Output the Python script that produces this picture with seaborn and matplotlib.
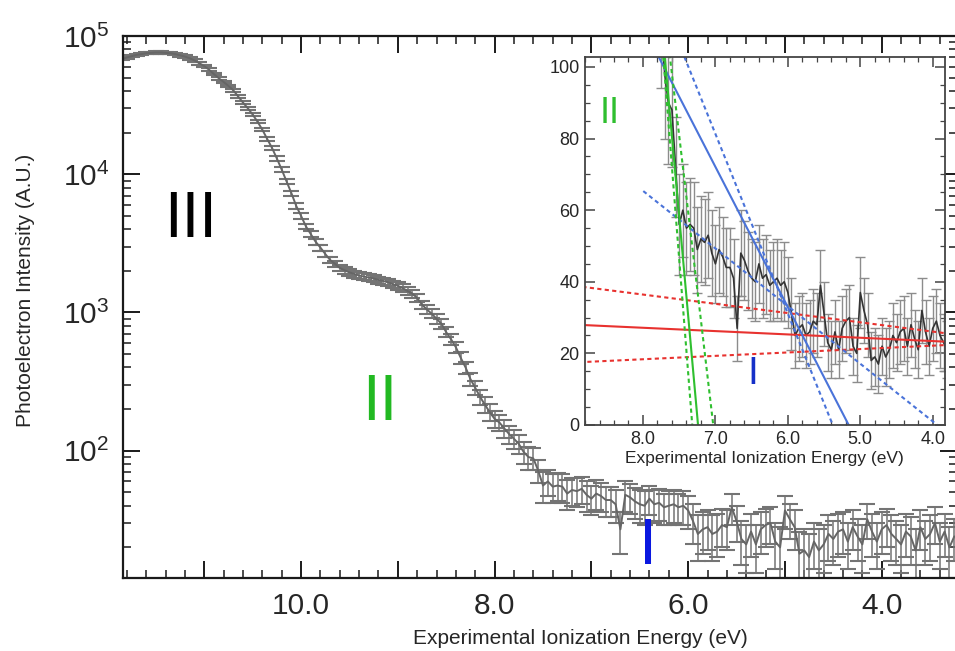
import numpy as np
import matplotlib
matplotlib.use("Agg")
import matplotlib.pyplot as plt
import seaborn as sns
from matplotlib import font_manager
from matplotlib.ticker import MultipleLocator, FuncFormatter, NullFormatter, LogLocator

# photoelectron spectrum, 0.05 eV steps from 11.85 eV down to 3.25 eV
energy = np.round(np.linspace(11.85, 3.25, 173), 2)
intensity = [
    68000, 70000, 71500, 73000, 74000, 75000, 75500, 76000, 76000, 75500,   # 11.85
    75000, 74000, 72500, 71000, 69000, 66500, 63500, 60500, 57000, 53000,   # 11.35
    49500, 46500, 43500, 40500, 36500, 33000, 30000, 27000, 24000, 21000,   # 10.85
    18000, 15500, 13000, 10800, 8900, 7300, 5900, 5000, 4200, 3700,         # 10.35
    3250, 2950, 2650, 2400, 2250, 2100, 2020, 1950, 1900, 1850,             # 9.85
    1820, 1790, 1760, 1720, 1690, 1650, 1600, 1560, 1500, 1430,             # 9.35
    1370, 1270, 1140, 1050, 980, 900, 830, 720, 640, 560,                   # 8.85
    470, 400, 330, 285, 245, 215, 190, 170, 160, 145,                       # 8.35
    132, 122, 112, 98, 90, 88, 72, 56, 60, 55,                              # 7.85
    56, 55, 49, 52, 51, 53, 48, 45, 49, 47,                                 # 7.35
    44, 44, 41, 27, 48, 46, 43, 41, 40, 45,                                 # 6.85
    41, 42, 39, 40, 41, 39, 40, 37, 31, 25,                                 # 6.35
    27, 28, 25, 26, 29, 28, 39, 31, 23, 21,                                 # 5.85
    26, 21, 27, 29, 30, 22, 20, 37, 32, 28,                                 # 5.35
    18, 19, 17, 22, 19, 21, 25, 23, 26, 27,                                 # 4.85
    22, 28, 24, 21, 32, 26, 22, 27, 29, 25,                                 # 4.35
    23, 21, 26, 24, 19, 28, 23, 25, 30, 22,                                 # 3.85
    26, 20, 24,                                                             # 3.35
]
error = [
    1400, 1400, 1450, 1500, 1500, 1500, 1500, 1500, 1500, 1500,
    1500, 1500, 1450, 1400, 1400, 1350, 1300, 1250, 1200, 1100,
    1050, 1000, 950, 900, 850, 800, 750, 700, 650, 600,
    550, 500, 450, 400, 350, 300, 260, 230, 200, 180,
    160, 150, 140, 130, 125, 120, 115, 110, 110, 105,
    105, 105, 100, 100, 100, 100, 95, 95, 95, 90,
    90, 85, 80, 80, 75, 70, 65, 60, 55, 50,
    45, 40, 36, 33, 30, 28, 26, 24, 22, 21,
    20, 19, 18, 18, 17, 16, 14, 14, 13, 13,
    13, 13, 12, 12, 12, 12, 12, 11, 12, 11,
    11, 11, 11, 9, 12, 11, 11, 11, 11, 11,
    11, 11, 10, 11, 11, 10, 11, 10, 10, 9,
    9, 9, 9, 9, 9, 9, 10, 9, 8, 8,
    9, 8, 9, 9, 9, 8, 8, 10, 9, 9,
    8, 8, 8, 8, 8, 8, 9, 8, 9, 9,
    8, 9, 8, 8, 9, 9, 8, 9, 9, 9,
    8, 8, 9, 9, 8, 9, 8, 9, 9, 8,
    9, 8, 8,
]

# linear fits in the inset, (intercept, slope) for y = a + b*E, and the energy span drawn
red_fit = [19.72, 0.929]
red_hi = [15.74, 2.586]
red_lo = [25.95, -0.949]
red_span = [8.8, 3.85]
blue_fit = [-202.3, 39.2]
blue_a = [-270.1, 50.2]
blue_b = [-63.4, 16.1]
blue_span = [8.0, 3.9]
green_fit = [-1621.8, 224.0]
green_a = [-1881.2, 257.0]
green_b = [-1209.2, 172.0]
green_span = [7.8, 6.9]

sns.set_style("ticks")
names = {f.name for f in font_manager.fontManager.ttflist}
narrow = "Liberation Sans Narrow" if "Liberation Sans Narrow" in names else "Liberation Sans"
plt.rcParams["font.family"] = ["Liberation Sans", "DejaVu Sans"]

fig = plt.figure(figsize=(9.55, 6.51), dpi=100)
ax = fig.add_axes([0.1288, 0.1121, 0.8735, 0.8326])

# main spectrum
ax.errorbar(energy, intensity, yerr=error, fmt="none", ecolor="#747474",
            elinewidth=1.1, capsize=6, capthick=1.5)
sns.lineplot(x=energy, y=intensity, ax=ax, color="#666666", lw=1.4)
ax.set_yscale("log")
ax.set_xlim(11.84, 3.22)
ax.set_ylim(12, 1e5)

ax.xaxis.set_major_locator(MultipleLocator(1))
ax.xaxis.set_minor_locator(MultipleLocator(0.2))
ax.xaxis.set_major_formatter(FuncFormatter(lambda v, p: f"{v:.1f}" if round(v) % 2 == 0 else ""))
ax.yaxis.set_major_locator(LogLocator(base=10))
ax.yaxis.set_minor_locator(LogLocator(base=10, subs=np.arange(2, 10)))
ax.yaxis.set_minor_formatter(NullFormatter())
ax.tick_params(which="both", direction="in", top=True, right=True, color="#1a1a1a")
ax.tick_params(which="major", length=12, width=1.4, labelsize=21.5, pad=10)
ax.tick_params(which="minor", length=6, width=1.1)
for s in ax.spines.values():
    s.set_linewidth(1.6)
    s.set_color("#1a1a1a")

ax.set_xlabel("Experimental Ionization Energy (eV)", fontsize=15)
ax.set_ylabel("Photoelectron Intensity (A.U.)", fontsize=15)
ax.xaxis.set_label_coords(0.548, -0.094)
ax.yaxis.set_label_coords(-0.105, 0.531)

ax.text(11.14, 4700, "III", color="black", fontsize=46, family=narrow, ha="center", va="center")
ax.text(9.19, 220, "II", color="#22b922", fontsize=46, family=narrow, ha="center", va="center")
ax.text(6.42, 20, "I", color="#0a18e0", fontsize=47, family=narrow, ha="center", va="center")

# inset: low-energy region on a linear scale with the threshold fits
ins = fig.add_axes([0.6126, 0.3472, 0.377, 0.5653])
ins.set_facecolor("white")
ins.errorbar(energy, intensity, yerr=error, fmt="none", ecolor="#8c8c8c",
             elinewidth=1.0, capsize=3.5, capthick=1.0)
sns.lineplot(x=energy, y=intensity, ax=ins, color="#333333", lw=1.2)


def fit_line(params, span, color, ls):
    e = np.array(span)
    sns.lineplot(x=e, y=params[0] + params[1] * e, ax=ins, color=color, lw=1.5, linestyle=ls)


dots = (0, (2, 1.6))
fit_line(red_fit, red_span, "#e8322f", "-")
fit_line(red_hi, red_span, "#e8322f", dots)
fit_line(red_lo, red_span, "#e8322f", dots)
fit_line(blue_fit, blue_span, "#4a73d9", "-")
fit_line(blue_a, blue_span, "#4a73d9", dots)
fit_line(blue_b, blue_span, "#4a73d9", dots)
fit_line(green_fit, green_span, "#2fbf2f", "-")
fit_line(green_a, green_span, "#2fbf2f", dots)
fit_line(green_b, green_span, "#2fbf2f", dots)

ins.set_xlim(8.8, 3.83)
ins.set_ylim(0, 102.8)
ins.xaxis.set_major_locator(MultipleLocator(1))
ins.xaxis.set_minor_locator(MultipleLocator(0.2))
ins.xaxis.set_major_formatter(FuncFormatter(lambda v, p: f"{v:.1f}"))
ins.yaxis.set_major_locator(MultipleLocator(20))
ins.yaxis.set_minor_locator(MultipleLocator(5))
ins.tick_params(which="both", direction="in", top=True, right=True, color="#444444")
ins.tick_params(which="major", length=7, width=1.1, labelsize=13, pad=4)
ins.tick_params(which="minor", length=3.5, width=0.9)
for lab in ins.get_xticklabels() + ins.get_yticklabels():
    lab.set_family(narrow)
for s in ins.spines.values():
    s.set_linewidth(1.3)
    s.set_color("#444444")
ins.set_xlabel("Experimental Ionization Energy (eV)", fontsize=12.5, family=narrow)
ins.set_ylabel("")
ins.xaxis.set_label_coords(0.497, -0.072)

ins.text(8.455, 87, "II", color="#2fbf2f", fontsize=26, family=narrow, ha="center", va="center")
ins.text(6.48, 14.2, "I", color="#1530c8", fontsize=28, family=narrow, ha="center", va="center")

fig.savefig("out.png", dpi=100)
